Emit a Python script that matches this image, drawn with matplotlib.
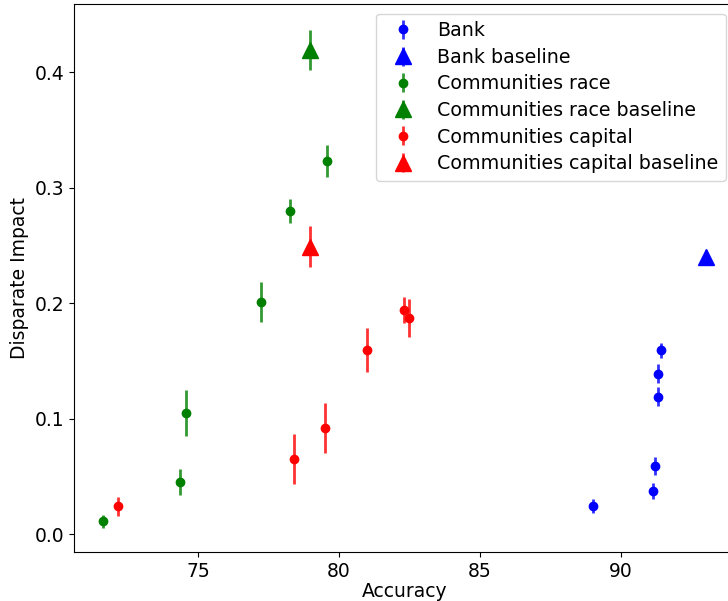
import numpy as np
import matplotlib
matplotlib.use('Agg')
import matplotlib.pyplot as plt

# accuracy / disparate impact / std per experiment
bank_acc = [89.0, 91.12, 91.19, 91.33, 91.33, 91.41]
bank_di = [0.024, 0.0375, 0.059, 0.119, 0.139, 0.159]
bank_err = [0.006, 0.007, 0.008, 0.008, 0.008, 0.0065]
bank_base_acc = [93.0]
bank_base_di = [0.240]
bank_base_err = [0.006]

race_acc = [71.64, 74.35, 74.56, 77.25, 78.26, 79.56]
race_di = [0.011, 0.045, 0.1045, 0.201, 0.280, 0.323]
race_err = [0.0055, 0.0115, 0.020, 0.017, 0.0105, 0.0135]
race_base_acc = [78.98]
race_base_di = [0.419]
race_base_err = [0.0175]

cap_acc = [72.16, 78.40, 79.49, 81.0, 82.30, 82.49]
cap_di = [0.024, 0.065, 0.092, 0.159, 0.194, 0.187]
cap_err = [0.008, 0.0215, 0.0215, 0.019, 0.011, 0.0165]
cap_base_acc = [78.98]
cap_base_di = [0.249]
cap_base_err = [0.018]

plt.rcParams.update({'font.size': 13.5})
fig = plt.figure(figsize=(7.28, 6.01), dpi=100)
ax = fig.add_axes([0.1016, 0.0815, 0.909, 0.9118])

series = [
    (bank_acc, bank_di, bank_err, 'b', 'o', 'Bank'),
    (bank_base_acc, bank_base_di, bank_base_err, 'b', '^', 'Bank baseline'),
    (race_acc, race_di, race_err, 'g', 'o', 'Communities race'),
    (race_base_acc, race_base_di, race_base_err, 'g', '^', 'Communities race baseline'),
    (cap_acc, cap_di, cap_err, 'r', 'o', 'Communities capital'),
    (cap_base_acc, cap_base_di, cap_base_err, 'r', '^', 'Communities capital baseline'),
]
for x, y, e, c, m, lab in series:
    ms = 6 if m == 'o' else 11
    cont = ax.errorbar(x, y, yerr=e, fmt=m, color=c, ecolor=c, elinewidth=2,
                       markersize=ms, label=lab)
    for bar in cont[2]:
        bar.set_alpha(0.8)

ax.set_xlim(70.6, 94.07)
ax.set_ylim(-0.0156, 0.459)
ax.set_xticks([75, 80, 85, 90])
ax.set_yticks([0.0, 0.1, 0.2, 0.3, 0.4])
ax.set_xlabel('Accuracy', labelpad=1)
ax.set_ylabel('Disparate Impact')
ax.legend(loc='upper right', fontsize=13.7, labelspacing=0.4)

plt.savefig('out.png', dpi=100)
